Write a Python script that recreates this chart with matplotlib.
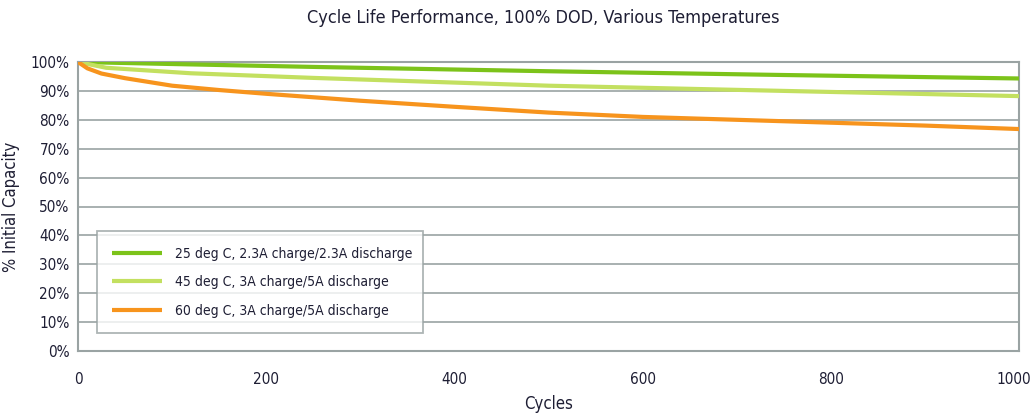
import matplotlib
matplotlib.use("Agg")
import matplotlib.pyplot as plt
import matplotlib.transforms as mtransforms

plt.rcParams['font.family'] = ["DejaVu Sans"]
plt.rcParams['font.stretch'] = 'condensed'

title = "Cycle Life Performance, 100% DOD, Various Temperatures"
labels = ["25 deg C, 2.3A charge/2.3A discharge",
          "45 deg C, 3A charge/5A discharge",
          "60 deg C, 3A charge/5A discharge"]
colors = ["#7cc31a", "#c3e060", "#f7941d"]

x25 = [0, 100, 250, 500, 750, 1000]
y25 = [100, 99.3, 98.3, 96.8, 95.5, 94.3]
x45 = [0, 30, 120, 250, 500, 750, 1000]
y45 = [100, 98.0, 96.1, 94.5, 91.8, 90.0, 88.2]
x60 = [0, 10, 25, 50, 100, 150, 200, 250, 300, 400, 500, 600, 700, 800, 900, 1000]
y60 = [100, 97.8, 96.0, 94.4, 91.8, 90.3, 89.0, 87.8, 86.6, 84.5, 82.5, 81.0, 80.0, 79.0, 78.0, 76.8]

xticks = [0, 200, 400, 600, 800, 1000]
yticks = list(range(0, 101, 10))

text_color = "#1e1e34"
grid_color = "#9aa3a3"

fig = plt.figure(figsize=(10.34, 4.18), dpi=100)
ax = fig.add_axes([78/1034, 1-351/418, (1019-78)/1034, (351-62)/418])

series = [(x25, y25), (x45, y45), (x60, y60)]
for (xs, ys), lab, c in zip(series, labels, colors):
    ax.plot(xs, ys, color=c, lw=3.0, label=lab, solid_capstyle='butt', zorder=3)

ax.set_xlim(0, 1000)
ax.set_ylim(0, 100)
ax.set_xticks(xticks)
ax.set_yticks(yticks)
ax.set_yticklabels([f"{v}%" for v in yticks])
ax.tick_params(axis='both', length=0, labelsize=11, colors=text_color)
ax.tick_params(axis='x', pad=15)
ax.tick_params(axis='y', pad=6)
last = ax.get_xticklabels()[-1]
last.set_transform(last.get_transform() + mtransforms.ScaledTranslation(-5/100, 0, fig.dpi_scale_trans))
ax.yaxis.grid(True, color=grid_color, lw=1.2, zorder=1)
ax.xaxis.grid(False)
for s in ax.spines.values():
    s.set_color(grid_color)
    s.set_linewidth(1.5)

ax.set_xlabel("Cycles", fontsize=12, color=text_color, labelpad=6)
ax.set_ylabel("% Initial Capacity", fontsize=12, color=text_color)
ax.yaxis.set_label_coords(-58/941, 0.5)
fig.text(543/1034, 1-18/418, title, ha='center', va='center', fontsize=13,
         color=text_color)

leg = ax.legend(loc='lower left', bbox_to_anchor=((97-78)/941, (351-333)/289, (423-97)/941, (333-228)/289),
                mode='expand', frameon=True, fancybox=False, fontsize=10,
                handlelength=3.6, handletextpad=0.9, labelspacing=1.05, borderpad=1.1,
                borderaxespad=0)
leg.get_frame().set_edgecolor(grid_color)
leg.get_frame().set_linewidth(1.3)
for t in leg.get_texts():
    t.set_color(text_color)

fig.savefig("out.png", dpi=100, facecolor='white')
